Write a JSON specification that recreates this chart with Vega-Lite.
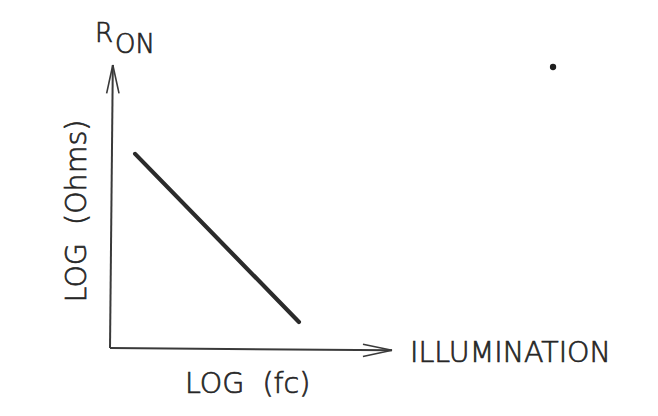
{
  "$schema": "https://vega.github.io/schema/vega-lite/v6.json",
  "width": 282,
  "height": 283,
  "autosize": {"type": "none"},
  "padding": {"left": 110, "top": 65, "right": 266, "bottom": 68},
  "background": "#ffffff",
  "config": {
    "view": {"stroke": null},
    "text": {"font": "DejaVu Sans", "fontWeight": 200, "color": "#262626", "stroke": "#262626", "strokeWidth": 0.7, "baseline": "alphabetic"}
  },
  "datasets": {
    "axes": [
      {"part": "x axis", "x": 0, "y": 0, "x2": 10, "y2": -0.08},
      {"part": "y axis", "x": 0, "y": 0, "x2": 0.1, "y2": 10}
    ],
    "heads": [
      {"part": "x head upper", "x": 8.97, "y": 0.13, "x2": 10, "y2": -0.08},
      {"part": "x head lower", "x": 8.97, "y": -0.30, "x2": 10, "y2": -0.08},
      {"part": "y head left", "x": -0.12, "y": 9.0, "x2": 0.1, "y2": 10},
      {"part": "y head right", "x": 0.32, "y": 9.0, "x2": 0.1, "y2": 10}
    ],
    "response": [
      {"x": 0.89, "y": 6.86, "x2": 6.70, "y2": 0.92}
    ],
    "labels": [
      {"label": "ILLUMINATION", "x": 10.64, "y": -0.49, "anchor": "left"},
      {"label": "LOG\u00a0\u00a0(fc)", "x": 4.88, "y": -1.58, "anchor": "center"}
    ],
    "symbol": [
      {"label": "R", "x": -0.53, "y": 10.81},
      {"label": "ON", "x": 0.18, "y": 10.42}
    ],
    "ylabel": [
      {"label": "LOG\u00a0\u00a0(Ohms)", "x": -0.85, "y": 4.84}
    ],
    "marker": [
      {"x": 15.71, "y": 9.93}
    ]
  },
  "layer": [
    {
      "data": {"name": "axes"},
      "mark": {"type": "rule", "stroke": "#3a3a3a", "strokeWidth": 2},
      "encoding": {
        "x": {"field": "x", "type": "quantitative", "scale": {"domain": [0, 10], "nice": false, "zero": false}, "axis": null},
        "y": {"field": "y", "type": "quantitative", "scale": {"domain": [0, 10], "nice": false, "zero": false}, "axis": null},
        "x2": {"field": "x2"},
        "y2": {"field": "y2"}
      }
    },
    {
      "data": {"name": "heads"},
      "mark": {"type": "rule", "stroke": "#3a3a3a", "strokeWidth": 1.6},
      "encoding": {
        "x": {"field": "x", "type": "quantitative"},
        "y": {"field": "y", "type": "quantitative"},
        "x2": {"field": "x2"},
        "y2": {"field": "y2"}
      }
    },
    {
      "data": {"name": "response"},
      "mark": {"type": "rule", "stroke": "#2b2b2b", "strokeWidth": 4.2, "strokeCap": "round"},
      "encoding": {
        "x": {"field": "x", "type": "quantitative"},
        "y": {"field": "y", "type": "quantitative"},
        "x2": {"field": "x2"},
        "y2": {"field": "y2"}
      }
    },
    {
      "data": {"name": "labels"},
      "transform": [{"filter": "datum.anchor === 'left'"}],
      "mark": {"type": "text", "fontSize": 28.5, "align": "left"},
      "encoding": {
        "x": {"field": "x", "type": "quantitative"},
        "y": {"field": "y", "type": "quantitative"},
        "text": {"field": "label"}
      }
    },
    {
      "data": {"name": "labels"},
      "transform": [{"filter": "datum.anchor === 'center'"}],
      "mark": {"type": "text", "fontSize": 28.5, "align": "center"},
      "encoding": {
        "x": {"field": "x", "type": "quantitative"},
        "y": {"field": "y", "type": "quantitative"},
        "text": {"field": "label"}
      }
    },
    {
      "data": {"name": "symbol"},
      "mark": {"type": "text", "fontSize": 26, "align": "left"},
      "encoding": {
        "x": {"field": "x", "type": "quantitative"},
        "y": {"field": "y", "type": "quantitative"},
        "text": {"field": "label"}
      }
    },
    {
      "data": {"name": "ylabel"},
      "mark": {"type": "text", "fontSize": 28.5, "angle": 270, "align": "center"},
      "encoding": {
        "x": {"field": "x", "type": "quantitative"},
        "y": {"field": "y", "type": "quantitative"},
        "text": {"field": "label"}
      }
    },
    {
      "data": {"name": "marker"},
      "mark": {"type": "point", "filled": true, "shape": "circle", "size": 40, "color": "#1e1e1e", "opacity": 1},
      "encoding": {
        "x": {"field": "x", "type": "quantitative"},
        "y": {"field": "y", "type": "quantitative"}
      }
    }
  ]
}
